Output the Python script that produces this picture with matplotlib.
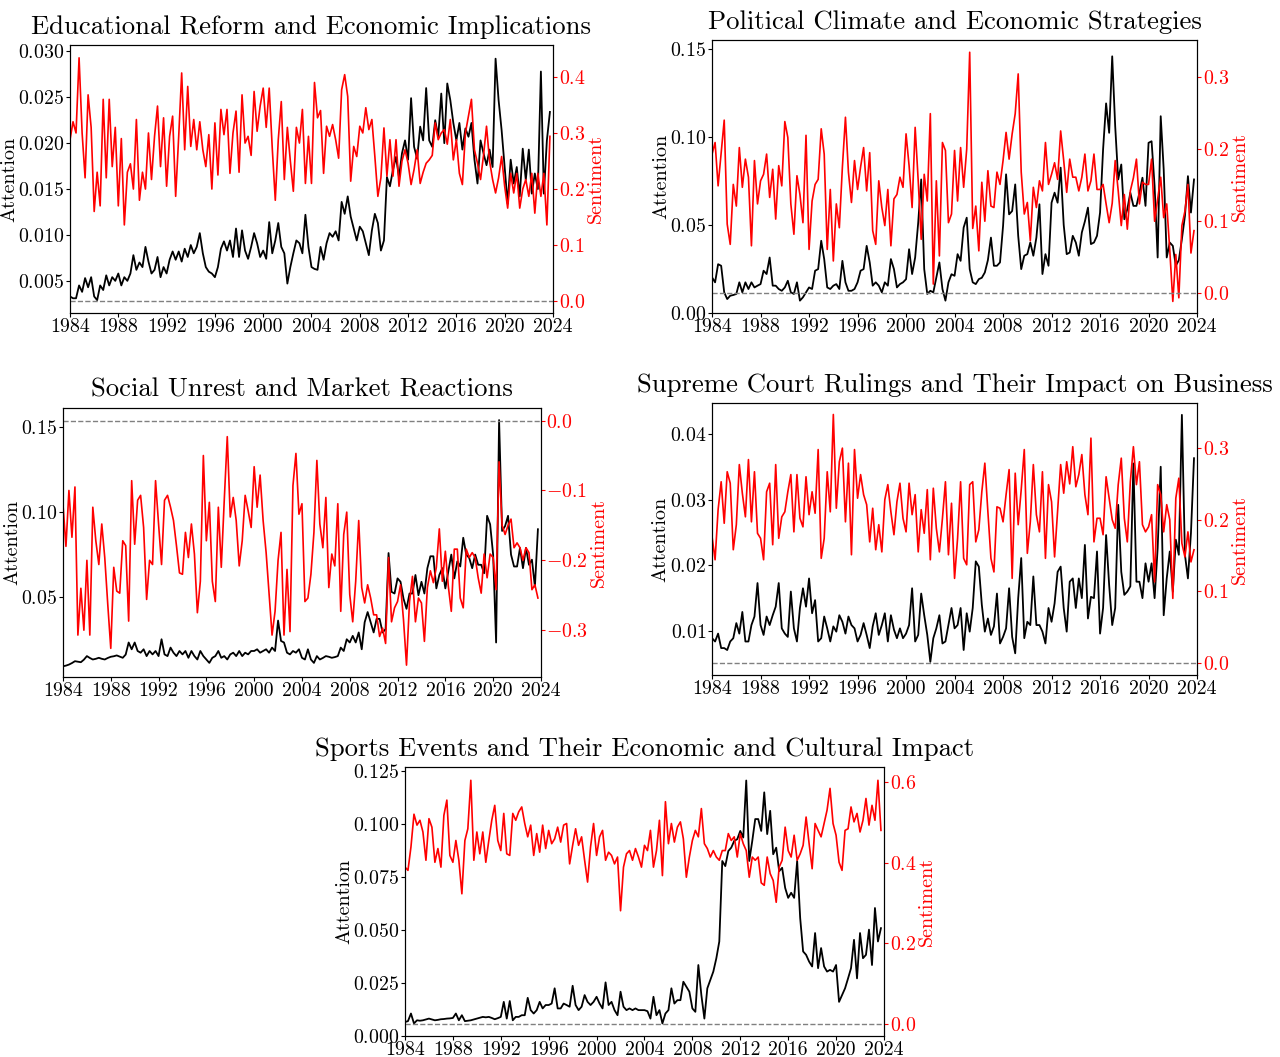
import matplotlib.pyplot as plt
import matplotlib.dates as mdates
from matplotlib.ticker import MultipleLocator
import pandas as pd

plt.rcParams['font.family'] = ['cmr10', 'DejaVu Serif']
plt.rcParams['mathtext.fontset'] = 'cm'
plt.rcParams['axes.formatter.use_mathtext'] = True

# quarterly readings, 1984Q1 .. 2023Q4
dates = pd.date_range('1984-01-01', periods=160, freq='QS')

titles = ["Educational Reform and Economic Implications",
          "Political Climate and Economic Strategies",
          "Social Unrest and Market Reactions",
          "Supreme Court Rulings and Their Impact on Business",
          "Sports Events and Their Economic and Cultural Impact"]

edu_att = [
    0.0033, 0.0031, 0.0031, 0.0045, 0.0038, 0.0053, 0.0043, 0.0054,
    0.0033, 0.0029, 0.0045, 0.0040, 0.0056, 0.0045, 0.0054, 0.0050,
    0.0058, 0.0045, 0.0054, 0.0050, 0.0058, 0.0078, 0.0062, 0.0070,
    0.0065, 0.0087, 0.0071, 0.0058, 0.0062, 0.0076, 0.0054, 0.0065,
    0.0058, 0.0073, 0.0082, 0.0073, 0.0082, 0.0071, 0.0085, 0.0076,
    0.0089, 0.0080, 0.0087, 0.0102, 0.0080, 0.0065, 0.0060, 0.0058,
    0.0054, 0.0065, 0.0085, 0.0093, 0.0083, 0.0094, 0.0076, 0.0107,
    0.0076, 0.0105, 0.0083, 0.0074, 0.0087, 0.0102, 0.0091, 0.0076,
    0.0083, 0.0074, 0.0114, 0.0080, 0.0094, 0.0113, 0.0087, 0.0080,
    0.0047, 0.0065, 0.0080, 0.0094, 0.0091, 0.0080, 0.0122, 0.0087,
    0.0065, 0.0063, 0.0062, 0.0087, 0.0073, 0.0091, 0.0102, 0.0098,
    0.0104, 0.0094, 0.0136, 0.0123, 0.0142, 0.0120, 0.0107, 0.0094,
    0.0109, 0.0104, 0.0091, 0.0078, 0.0105, 0.0123, 0.0113, 0.0083,
    0.0094, 0.0163, 0.0153, 0.0171, 0.0185, 0.0163, 0.0189, 0.0203,
    0.0182, 0.0249, 0.0196, 0.0183, 0.0218, 0.0203, 0.0260, 0.0203,
    0.0196, 0.0225, 0.0207, 0.0254, 0.0200, 0.0265, 0.0247, 0.0222,
    0.0203, 0.0222, 0.0193, 0.0216, 0.0207, 0.0222, 0.0182, 0.0156,
    0.0203, 0.0189, 0.0176, 0.0193, 0.0174, 0.0292, 0.0247, 0.0214,
    0.0174, 0.0134, 0.0182, 0.0156, 0.0174, 0.0142, 0.0194, 0.0160,
    0.0193, 0.0145, 0.0167, 0.0150, 0.0278, 0.0145, 0.0203, 0.0234,
]
edu_sent = [
    0.288, 0.320, 0.300, 0.434, 0.300, 0.220, 0.368, 0.310,
    0.160, 0.230, 0.170, 0.360, 0.220, 0.360, 0.240, 0.310,
    0.170, 0.290, 0.136, 0.230, 0.245, 0.200, 0.324, 0.180,
    0.230, 0.200, 0.300, 0.217, 0.294, 0.348, 0.240, 0.327,
    0.205, 0.294, 0.330, 0.187, 0.294, 0.407, 0.270, 0.383,
    0.276, 0.324, 0.270, 0.320, 0.270, 0.240, 0.297, 0.200,
    0.318, 0.225, 0.342, 0.297, 0.342, 0.228, 0.300, 0.339,
    0.230, 0.368, 0.282, 0.294, 0.260, 0.374, 0.303, 0.348,
    0.380, 0.310, 0.380, 0.273, 0.180, 0.288, 0.356, 0.217,
    0.310, 0.250, 0.196, 0.310, 0.282, 0.342, 0.210, 0.294,
    0.210, 0.390, 0.327, 0.340, 0.228, 0.312, 0.294, 0.315,
    0.288, 0.255, 0.377, 0.404, 0.365, 0.214, 0.276, 0.258,
    0.312, 0.300, 0.345, 0.306, 0.324, 0.258, 0.187, 0.220,
    0.309, 0.223, 0.288, 0.223, 0.288, 0.205, 0.250, 0.270,
    0.246, 0.208, 0.235, 0.270, 0.210, 0.230, 0.246, 0.252,
    0.260, 0.318, 0.288, 0.300, 0.306, 0.280, 0.324, 0.252,
    0.288, 0.228, 0.208, 0.300, 0.330, 0.360, 0.270, 0.246,
    0.217, 0.260, 0.312, 0.250, 0.217, 0.193, 0.220, 0.258,
    0.205, 0.166, 0.228, 0.193, 0.228, 0.166, 0.200, 0.217,
    0.187, 0.228, 0.157, 0.228, 0.187, 0.228, 0.136, 0.294,
]

pol_att = [
    0.0202, 0.0174, 0.0277, 0.0268, 0.0117, 0.0079, 0.0098, 0.0102,
    0.0108, 0.0174, 0.0117, 0.0174, 0.0136, 0.0174, 0.0145, 0.0155,
    0.0164, 0.0240, 0.0221, 0.0315, 0.0155, 0.0155, 0.0136, 0.0126,
    0.0145, 0.0183, 0.0117, 0.0108, 0.0174, 0.0070, 0.0089, 0.0117,
    0.0145, 0.0136, 0.0240, 0.0249, 0.0410, 0.0306, 0.0145, 0.0136,
    0.0155, 0.0164, 0.0136, 0.0296, 0.0174, 0.0126, 0.0126, 0.0136,
    0.0174, 0.0240, 0.0249, 0.0381, 0.0287, 0.0155, 0.0174, 0.0155,
    0.0117, 0.0174, 0.0155, 0.0306, 0.0249, 0.0145, 0.0164, 0.0174,
    0.0192, 0.0362, 0.0221, 0.0315, 0.0513, 0.0758, 0.0249, 0.0108,
    0.0126, 0.0117, 0.0202, 0.0287, 0.0136, 0.0070, 0.0174, 0.0220,
    0.0211, 0.0334, 0.0296, 0.0485, 0.0541, 0.0249, 0.0174, 0.0164,
    0.0192, 0.0200, 0.0230, 0.0300, 0.0428, 0.0268, 0.0268, 0.0287,
    0.0494, 0.0787, 0.0560, 0.0579, 0.0730, 0.0438, 0.0249, 0.0325,
    0.0334, 0.0400, 0.0325, 0.0428, 0.0617, 0.0221, 0.0334, 0.0268,
    0.0626, 0.0683, 0.0626, 0.0825, 0.0500, 0.0334, 0.0343, 0.0438,
    0.0400, 0.0325, 0.0457, 0.0520, 0.0598, 0.0391, 0.0400, 0.0438,
    0.0570, 0.0928, 0.1190, 0.1023, 0.1457, 0.1060, 0.0758, 0.0843,
    0.0532, 0.0589, 0.0683, 0.0608, 0.0608, 0.0683, 0.0768, 0.0608,
    0.0966, 0.0975, 0.0721, 0.0315, 0.1117, 0.0815, 0.0315, 0.0400,
    0.0381, 0.0268, 0.0300, 0.0419, 0.0551, 0.0777, 0.0570, 0.0758,
]
pol_sent = [
    0.193, 0.209, 0.149, 0.195, 0.240, 0.096, 0.068, 0.151,
    0.121, 0.202, 0.147, 0.186, 0.161, 0.066, 0.184, 0.124,
    0.156, 0.165, 0.193, 0.133, 0.172, 0.103, 0.177, 0.149,
    0.238, 0.216, 0.124, 0.082, 0.163, 0.137, 0.098, 0.219,
    0.061, 0.128, 0.151, 0.158, 0.228, 0.193, 0.061, 0.144,
    0.045, 0.124, 0.091, 0.175, 0.244, 0.168, 0.126, 0.184,
    0.144, 0.175, 0.202, 0.142, 0.195, 0.087, 0.068, 0.156,
    0.119, 0.094, 0.144, 0.066, 0.131, 0.137, 0.161, 0.147,
    0.221, 0.177, 0.119, 0.230, 0.156, 0.075, 0.165, 0.128,
    0.249, 0.013, 0.156, 0.052, 0.209, 0.198, 0.098, 0.110,
    0.198, 0.128, 0.202, 0.147, 0.200, 0.334, 0.090, 0.121,
    0.059, 0.154, 0.100, 0.170, 0.121, 0.119, 0.168, 0.151,
    0.184, 0.223, 0.186, 0.221, 0.249, 0.304, 0.168, 0.110,
    0.126, 0.073, 0.147, 0.119, 0.156, 0.142, 0.209, 0.151,
    0.165, 0.181, 0.158, 0.225, 0.184, 0.140, 0.186, 0.161,
    0.161, 0.142, 0.161, 0.193, 0.142, 0.156, 0.193, 0.144,
    0.144, 0.151, 0.124, 0.098, 0.125, 0.184, 0.142, 0.094,
    0.137, 0.089, 0.142, 0.160, 0.186, 0.124, 0.154, 0.151,
    0.151, 0.186, 0.100, 0.130, 0.161, 0.105, 0.124, 0.060,
    -0.011, 0.054, -0.006, 0.094, 0.114, 0.151, 0.056, 0.087,
]

soc_att = [
    0.0091, 0.0095, 0.0101, 0.0110, 0.0121, 0.0118, 0.0115, 0.0130,
    0.0151, 0.0140, 0.0131, 0.0135, 0.0141, 0.0135, 0.0131, 0.0140,
    0.0147, 0.0150, 0.0155, 0.0148, 0.0141, 0.0160, 0.0231, 0.0191,
    0.0231, 0.0181, 0.0171, 0.0191, 0.0151, 0.0181, 0.0161, 0.0181,
    0.0151, 0.0250, 0.0161, 0.0151, 0.0201, 0.0171, 0.0151, 0.0181,
    0.0161, 0.0181, 0.0141, 0.0181, 0.0151, 0.0131, 0.0181, 0.0151,
    0.0131, 0.0111, 0.0141, 0.0151, 0.0181, 0.0141, 0.0151, 0.0131,
    0.0161, 0.0171, 0.0151, 0.0181, 0.0151, 0.0171, 0.0161, 0.0181,
    0.0181, 0.0191, 0.0171, 0.0181, 0.0191, 0.0171, 0.0201, 0.0181,
    0.0360, 0.0240, 0.0231, 0.0171, 0.0161, 0.0181, 0.0171, 0.0191,
    0.0141, 0.0131, 0.0191, 0.0131, 0.0111, 0.0151, 0.0131, 0.0140,
    0.0151, 0.0147, 0.0141, 0.0145, 0.0151, 0.0201, 0.0181, 0.0250,
    0.0231, 0.0270, 0.0231, 0.0290, 0.0191, 0.0350, 0.0410, 0.0350,
    0.0290, 0.0370, 0.0370, 0.0290, 0.0310, 0.0757, 0.0529, 0.0519,
    0.0608, 0.0588, 0.0489, 0.0429, 0.0519, 0.0519, 0.0628, 0.0509,
    0.0588, 0.0519, 0.0668, 0.0738, 0.0738, 0.0549, 0.0628, 0.0668,
    0.0549, 0.0648, 0.0748, 0.0608, 0.0708, 0.0678, 0.0847, 0.0748,
    0.0728, 0.0668, 0.0748, 0.0688, 0.0688, 0.0638, 0.0976, 0.0926,
    0.0748, 0.0231, 0.1539, 0.0887, 0.0916, 0.0976, 0.0748, 0.0678,
    0.0678, 0.0787, 0.0668, 0.0787, 0.0688, 0.0718, 0.0559, 0.0897,
]
soc_sent = [
    -0.120, -0.180, -0.100, -0.167, -0.095, -0.307, -0.240, -0.300,
    -0.200, -0.307, -0.124, -0.172, -0.206, -0.148, -0.196, -0.263,
    -0.326, -0.210, -0.244, -0.247, -0.172, -0.179, -0.287, -0.086,
    -0.177, -0.114, -0.107, -0.153, -0.256, -0.200, -0.206, -0.086,
    -0.148, -0.206, -0.114, -0.107, -0.124, -0.143, -0.179, -0.218,
    -0.220, -0.160, -0.196, -0.148, -0.191, -0.275, -0.230, -0.050,
    -0.172, -0.117, -0.230, -0.259, -0.124, -0.210, -0.114, -0.023,
    -0.138, -0.110, -0.143, -0.208, -0.172, -0.107, -0.129, -0.153,
    -0.066, -0.124, -0.078, -0.143, -0.189, -0.247, -0.307, -0.273,
    -0.200, -0.160, -0.307, -0.213, -0.302, -0.093, -0.047, -0.134,
    -0.119, -0.259, -0.254, -0.220, -0.160, -0.057, -0.148, -0.182,
    -0.110, -0.239, -0.191, -0.208, -0.119, -0.273, -0.163, -0.131,
    -0.249, -0.288, -0.230, -0.143, -0.239, -0.261, -0.235, -0.254,
    -0.278, -0.278, -0.309, -0.297, -0.319, -0.196, -0.288, -0.268,
    -0.259, -0.235, -0.285, -0.350, -0.259, -0.223, -0.288, -0.254,
    -0.261, -0.316, -0.239, -0.215, -0.232, -0.210, -0.155, -0.230,
    -0.187, -0.237, -0.273, -0.184, -0.184, -0.254, -0.268, -0.184,
    -0.196, -0.189, -0.196, -0.225, -0.247, -0.191, -0.225, -0.191,
    -0.196, -0.242, -0.059, -0.150, -0.163, -0.150, -0.141, -0.182,
    -0.175, -0.182, -0.200, -0.182, -0.189, -0.242, -0.235, -0.254,
]

court_att = [
    0.0089, 0.0084, 0.0096, 0.0074, 0.0074, 0.0071, 0.0084, 0.0089,
    0.0112, 0.0096, 0.0129, 0.0084, 0.0084, 0.0109, 0.0122, 0.0173,
    0.0109, 0.0094, 0.0122, 0.0109, 0.0124, 0.0137, 0.0173, 0.0104,
    0.0096, 0.0091, 0.0160, 0.0104, 0.0084, 0.0135, 0.0165, 0.0137,
    0.0180, 0.0127, 0.0147, 0.0084, 0.0089, 0.0122, 0.0104, 0.0084,
    0.0107, 0.0099, 0.0124, 0.0114, 0.0096, 0.0122, 0.0109, 0.0104,
    0.0084, 0.0094, 0.0112, 0.0094, 0.0074, 0.0107, 0.0127, 0.0094,
    0.0109, 0.0127, 0.0084, 0.0124, 0.0102, 0.0089, 0.0104, 0.0089,
    0.0096, 0.0109, 0.0165, 0.0084, 0.0094, 0.0157, 0.0124, 0.0094,
    0.0053, 0.0089, 0.0104, 0.0124, 0.0081, 0.0084, 0.0109, 0.0135,
    0.0104, 0.0109, 0.0135, 0.0071, 0.0127, 0.0099, 0.0135, 0.0206,
    0.0198, 0.0140, 0.0099, 0.0119, 0.0094, 0.0107, 0.0157, 0.0081,
    0.0091, 0.0104, 0.0165, 0.0091, 0.0066, 0.0150, 0.0211, 0.0089,
    0.0114, 0.0109, 0.0183, 0.0109, 0.0109, 0.0099, 0.0081, 0.0135,
    0.0114, 0.0142, 0.0190, 0.0198, 0.0135, 0.0099, 0.0175, 0.0180,
    0.0135, 0.0180, 0.0150, 0.0231, 0.0119, 0.0152, 0.0150, 0.0221,
    0.0096, 0.0135, 0.0246, 0.0170, 0.0109, 0.0135, 0.0292, 0.0190,
    0.0155, 0.0160, 0.0168, 0.0355, 0.0175, 0.0175, 0.0150, 0.0203,
    0.0175, 0.0203, 0.0150, 0.0226, 0.0350, 0.0124, 0.0180, 0.0221,
    0.0160, 0.0239, 0.0216, 0.0429, 0.0216, 0.0180, 0.0249, 0.0363,
]
court_sent = [
    0.176, 0.144, 0.214, 0.253, 0.195, 0.267, 0.251, 0.158,
    0.193, 0.277, 0.237, 0.204, 0.284, 0.197, 0.267, 0.181,
    0.174, 0.144, 0.239, 0.251, 0.165, 0.277, 0.174, 0.204,
    0.211, 0.239, 0.263, 0.183, 0.263, 0.202, 0.190, 0.260,
    0.207, 0.239, 0.209, 0.298, 0.146, 0.174, 0.267, 0.211,
    0.347, 0.216, 0.281, 0.300, 0.197, 0.279, 0.151, 0.298,
    0.230, 0.263, 0.235, 0.221, 0.169, 0.216, 0.158, 0.193,
    0.155, 0.228, 0.249, 0.211, 0.179, 0.225, 0.251, 0.202,
    0.183, 0.251, 0.207, 0.235, 0.155, 0.214, 0.181, 0.242,
    0.144, 0.244, 0.188, 0.155, 0.202, 0.253, 0.151, 0.223,
    0.118, 0.174, 0.253, 0.146, 0.137, 0.249, 0.253, 0.169,
    0.186, 0.239, 0.279, 0.211, 0.146, 0.127, 0.218, 0.216,
    0.197, 0.235, 0.270, 0.118, 0.265, 0.193, 0.242, 0.298,
    0.153, 0.197, 0.277, 0.207, 0.183, 0.267, 0.146, 0.249,
    0.225, 0.148, 0.211, 0.277, 0.237, 0.281, 0.250, 0.302,
    0.246, 0.263, 0.291, 0.235, 0.207, 0.314, 0.169, 0.202,
    0.202, 0.179, 0.260, 0.230, 0.200, 0.188, 0.249, 0.286,
    0.202, 0.169, 0.253, 0.302, 0.249, 0.281, 0.193, 0.183,
    0.190, 0.207, 0.113, 0.249, 0.235, 0.183, 0.221, 0.200,
    0.090, 0.230, 0.258, 0.167, 0.148, 0.183, 0.141, 0.158,
]

sport_att = [
    0.0066, 0.0070, 0.0106, 0.0059, 0.0074, 0.0072, 0.0074, 0.0078,
    0.0082, 0.0078, 0.0074, 0.0076, 0.0079, 0.0080, 0.0082, 0.0083,
    0.0085, 0.0106, 0.0074, 0.0098, 0.0070, 0.0072, 0.0074, 0.0078,
    0.0082, 0.0086, 0.0090, 0.0088, 0.0090, 0.0085, 0.0079, 0.0084,
    0.0090, 0.0161, 0.0082, 0.0165, 0.0074, 0.0090, 0.0090, 0.0098,
    0.0098, 0.0180, 0.0122, 0.0106, 0.0122, 0.0161, 0.0130, 0.0146,
    0.0146, 0.0153, 0.0225, 0.0130, 0.0130, 0.0153, 0.0146, 0.0138,
    0.0237, 0.0146, 0.0122, 0.0138, 0.0193, 0.0161, 0.0146, 0.0161,
    0.0185, 0.0153, 0.0130, 0.0253, 0.0146, 0.0161, 0.0122, 0.0098,
    0.0209, 0.0138, 0.0122, 0.0130, 0.0122, 0.0130, 0.0122, 0.0122,
    0.0122, 0.0117, 0.0082, 0.0185, 0.0098, 0.0122, 0.0059, 0.0106,
    0.0122, 0.0225, 0.0153, 0.0169, 0.0169, 0.0256, 0.0233, 0.0209,
    0.0130, 0.0114, 0.0335, 0.0193, 0.0082, 0.0225, 0.0264, 0.0304,
    0.0367, 0.0446, 0.0826, 0.0802, 0.0873, 0.0889, 0.0921, 0.0929,
    0.0968, 0.0937, 0.1206, 0.0826, 0.0921, 0.1024, 0.1024, 0.0968,
    0.1150, 0.0953, 0.1063, 0.0858, 0.0889, 0.0778, 0.0794, 0.0699,
    0.0652, 0.0676, 0.0652, 0.0826, 0.0557, 0.0399, 0.0383, 0.0351,
    0.0328, 0.0486, 0.0320, 0.0415, 0.0328, 0.0304, 0.0312, 0.0304,
    0.0335, 0.0161, 0.0193, 0.0225, 0.0272, 0.0320, 0.0454, 0.0272,
    0.0486, 0.0367, 0.0383, 0.0502, 0.0335, 0.0604, 0.0446, 0.0509,
]
sport_sent = [
    0.389, 0.381, 0.439, 0.520, 0.493, 0.505, 0.476, 0.406,
    0.509, 0.488, 0.401, 0.435, 0.389, 0.517, 0.555, 0.418,
    0.401, 0.455, 0.406, 0.323, 0.455, 0.484, 0.604, 0.406,
    0.476, 0.422, 0.476, 0.401, 0.455, 0.505, 0.542, 0.455,
    0.430, 0.522, 0.422, 0.418, 0.522, 0.505, 0.526, 0.538,
    0.497, 0.464, 0.493, 0.418, 0.472, 0.426, 0.493, 0.435,
    0.480, 0.447, 0.459, 0.488, 0.451, 0.493, 0.497, 0.397,
    0.443, 0.484, 0.443, 0.464, 0.406, 0.352, 0.439, 0.497,
    0.418, 0.464, 0.480, 0.406, 0.426, 0.418, 0.397, 0.414,
    0.281, 0.389, 0.422, 0.430, 0.406, 0.435, 0.414, 0.389,
    0.443, 0.430, 0.480, 0.389, 0.430, 0.505, 0.368, 0.551,
    0.447, 0.497, 0.451, 0.488, 0.501, 0.459, 0.364, 0.414,
    0.455, 0.480, 0.464, 0.534, 0.447, 0.435, 0.414, 0.430,
    0.414, 0.406, 0.430, 0.430, 0.472, 0.455, 0.464, 0.414,
    0.472, 0.447, 0.430, 0.364, 0.414, 0.406, 0.414, 0.350,
    0.344, 0.414, 0.373, 0.356, 0.302, 0.389, 0.406, 0.488,
    0.430, 0.414, 0.468, 0.406, 0.422, 0.443, 0.513, 0.447,
    0.385, 0.497, 0.480, 0.464, 0.497, 0.530, 0.584, 0.497,
    0.468, 0.401, 0.381, 0.480, 0.484, 0.538, 0.501, 0.522,
    0.476, 0.505, 0.559, 0.493, 0.542, 0.505, 0.604, 0.480,
]


def panel(fig, rect, title, att, sent, att_lim, sent_lim, att_step, sent_step):
    ax = fig.add_axes(rect)
    ax.plot(dates, att, color='black', lw=1.3)
    ax.set_xlim(pd.Timestamp('1984-01-01'), pd.Timestamp('2024-01-01'))
    ax.set_ylim(att_lim)
    ax.yaxis.set_major_locator(MultipleLocator(att_step))
    ax.xaxis.set_major_locator(mdates.YearLocator(4))
    ax.xaxis.set_major_formatter(mdates.DateFormatter('%Y'))
    ax.set_ylabel('Attention', fontsize=14.5, labelpad=0)
    ax.tick_params(labelsize=14.3, pad=1, length=3)
    ax.set_title(title, fontsize=19.2, pad=8)

    ax2 = ax.twinx()
    ax2.plot(dates, sent, color='red', lw=1.2)
    ax2.axhline(0, color='gray', ls='--', lw=1)
    ax2.set_ylim(sent_lim)
    ax2.yaxis.set_major_locator(MultipleLocator(sent_step))
    ax2.set_ylabel('Sentiment', color='red', fontsize=14.5, labelpad=1)
    ax2.tick_params(axis='y', colors='red', labelsize=14.3, pad=1, length=3)
    ax2.spines['right'].set_color('black')
    return ax, ax2


fig = plt.figure(figsize=(12.8, 10.57), dpi=100)

panel(fig, [0.0547, 0.7039, 0.3773, 0.2536], titles[0], edu_att, edu_sent,
      (0.0015, 0.0307), (-0.021, 0.457), 0.005, 0.1)
panel(fig, [0.5563, 0.7039, 0.3789, 0.2583], titles[1], pol_att, pol_sent,
      (0.0, 0.155), (-0.027, 0.351), 0.05, 0.1)
panel(fig, [0.0492, 0.3595, 0.3734, 0.2545], titles[2], soc_att, soc_sent,
      (0.0028, 0.161), (-0.367, 0.018), 0.05, 0.1)
panel(fig, [0.5563, 0.3614, 0.3789, 0.2573], titles[3], court_att, court_sent,
      (0.0033, 0.0447), (-0.017, 0.363), 0.01, 0.1)
panel(fig, [0.3164, 0.0199, 0.3742, 0.2545], titles[4], sport_att, sport_sent,
      (0.0, 0.127), (-0.029, 0.637), 0.025, 0.2)

fig.savefig('out.png', dpi=100)
